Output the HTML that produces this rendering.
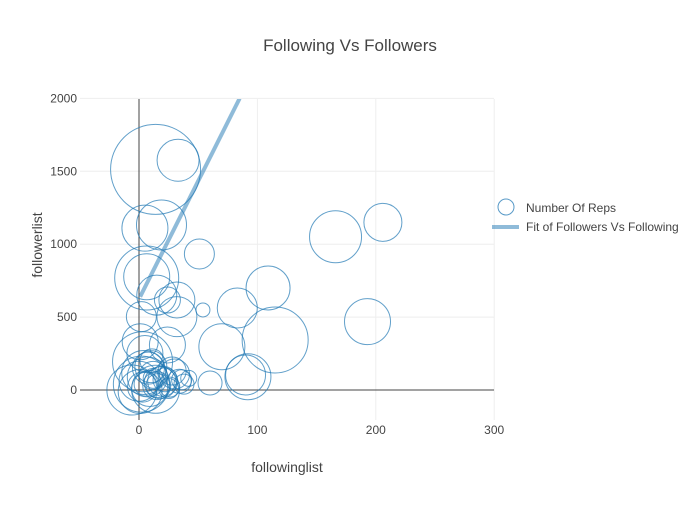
<!DOCTYPE html>
<html><head><meta charset="utf-8"><style>
body{margin:0;background:#fff;}
svg{font-family:"Liberation Sans",sans-serif;}
</style></head><body>
<svg id="chart" width="700" height="500">
<defs><clipPath id="clip"><rect x="80" y="99" width="414" height="321"/></clipPath></defs>
<text x="350" y="51" text-anchor="middle" font-size="17" fill="#444">Following Vs Followers</text>
<g id="grid"></g>
<g id="marks" clip-path="url(#clip)"></g>
<g id="ticks"></g>
<text x="287" y="472" text-anchor="middle" font-size="14" fill="#444">followinglist</text>
<text transform="translate(42,245) rotate(-90)" text-anchor="middle" font-size="14" fill="#444">followerlist</text>
<g>
<g><circle cx="506" cy="207" r="8" fill="none" stroke="rgb(31,119,180)" stroke-width="1" stroke-opacity="0.75"/><text x="526" y="212" font-size="12" fill="#444">Number Of Reps</text></g>
<g><line x1="492" y1="227" x2="519" y2="227" stroke="rgba(31,119,180,0.5)" stroke-width="4"/><text x="526" y="231" font-size="12" fill="#444">Fit of Followers Vs Following</text></g>
</g>
</svg>
<script>
const xTicks=[0,100,200,300];
const yTicks=[0,500,1000,1500,2000];
const bubbleX=[14,33,19,5,51,6.5,6.5,15,32,24,54,109,83,2,32,115,70,92,90,60,1,24,-6,3,166,206,193,
 0,3,6,9,12,15,18,22,26,30,34,38,42,4,8,12,16,20,25,2,7,11,14,28,36,10,5,1];
const bubbleY=[1513,1576,1132,1110,933,768,777,651,617,617,549,700,562,503,503,343,297,91,103,48,331,309,0,194,1051,1150,469,
 60,20,40,10,80,30,50,70,20,110,60,40,80,120,150,100,30,60,10,40,90,200,5,130,70,160,250,-10];
const bubbleSize=[45,21,25,23,15,32,23,20,18,13,7,22,20,15,20,33,23,23,20,12,18,18,25,30,26,19,23,
 20,15,12,18,10,14,16,12,10,15,12,10,8,22,16,14,12,15,10,28,20,12,24,14,10,16,18,22];
const fitX=[1,85];
const fitY=[640,2000];
const sx=v=>139+1.184*v, sy=v=>390-0.1458*v;
const NS="http://www.w3.org/2000/svg";
const grid=document.getElementById('grid'),ticks=document.getElementById('ticks'),marks=document.getElementById('marks');
function mk(tag,attrs,parent){const e=document.createElementNS(NS,tag);for(const k in attrs)e.setAttribute(k,attrs[k]);parent.appendChild(e);return e;}
xTicks.forEach(t=>{
 if(t!==0){const l=mk('line',{x1:sx(t),x2:sx(t),y1:99,y2:420,stroke:'#eee','stroke-width':1},grid);
 
 }
 const tx=mk('text',{x:sx(t),y:434,'text-anchor':'middle','font-size':12,fill:'#444'},ticks);tx.textContent=t;
 
 
});
yTicks.forEach(t=>{
 if(t!==0){const l=mk('line',{x1:80,x2:494,y1:sy(t),y2:sy(t),stroke:'#eee','stroke-width':1},grid);
 
 }
 const tx=mk('text',{x:77,y:sy(t)+4,'text-anchor':'end','font-size':12,fill:'#444'},ticks);tx.textContent=t;
 
 
});
const zx=mk('line',{x1:sx(0),x2:sx(0),y1:99,y2:420,stroke:'#444','stroke-width':1},grid);


const zy=mk('line',{x1:80,x2:494,y1:sy(0),y2:sy(0),stroke:'#444','stroke-width':1},grid);


bubbleX.forEach((v,i)=>{
 const c=mk('circle',{cx:sx(v),cy:sy(bubbleY[i]),r:bubbleSize[i],fill:'none',stroke:'rgb(31,119,180)','stroke-width':1,'stroke-opacity':0.7},marks);
 
 
});
const fl=mk('line',{x1:sx(fitX[0]),y1:sy(fitY[0]),x2:sx(fitX[1]),y2:sy(fitY[1]),stroke:'rgba(31,119,180,0.5)','stroke-width':4},marks);


</script>
</body></html>
